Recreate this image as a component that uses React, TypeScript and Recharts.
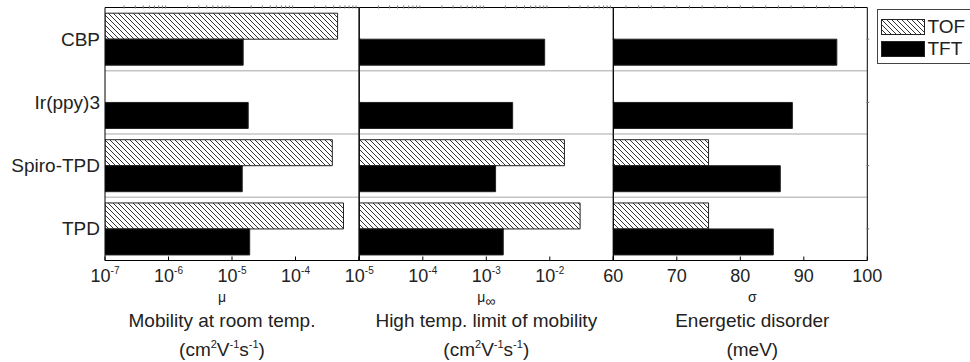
import React from 'react';
import { BarChart, Bar, XAxis, YAxis, CartesianGrid, Legend, Label } from 'recharts';

// materials (rows, top to bottom)
const categories = ['CBP', 'Ir(ppy)3', 'Spiro-TPD', 'TPD'];

// mobility at room temperature (cm2/Vs)
const tofMu = [4.6e-4, null, 3.8e-4, 5.7e-4];
const tftMu = [1.5e-5, 1.8e-5, 1.45e-5, 1.9e-5];

// high temperature limit of mobility (cm2/Vs)
const tofMuInf = [null, null, 1.7e-2, 3.0e-2];
const tftMuInf = [8.3e-3, 2.6e-3, 1.4e-3, 1.85e-3];

// energetic disorder (meV)
const tofSigma = [null, null, 75, 75];
const tftSigma = [95.2, 88.2, 86.3, 85.2];

const muTicks = [1e-7, 1e-6, 1e-5, 1e-4, 1e-3];
const muInfTicks = [1e-5, 1e-4, 1e-3, 1e-2, 1e-1];
const sigmaTicks = [60, 70, 80, 90, 100];

const W = 970;
const H = 362;
const PLOT_TOP = 7.5;
const AXIS_Y = 260.5;
const PANEL_W = 254;
const FONT = '"Liberation Sans", Arial, sans-serif';

const minorLog = (ticks: number[]) =>
  ticks.slice(0, -1).flatMap(d => [2, 3, 4, 5, 6, 7, 8, 9].map(k => k * d));
const minorLin = (ticks: number[]) => {
  const out: number[] = [];
  for (let v = ticks[0] + 2; v < ticks[ticks.length - 1]; v += 2) out.push(v);
  return out;
};

const panels = [
  {
    id: 'mu', left: 105, tof: tofMu, tft: tftMu, ticks: muTicks, log: true,
    symbol: 'μ', sub: '', title: 'Mobility at room temp.', unit: 'cm', dx: -10,
  },
  {
    id: 'muinf', left: 359.3, tof: tofMuInf, tft: tftMuInf, ticks: muInfTicks, log: true,
    symbol: 'μ', sub: '∞', title: 'High temp. limit of mobility', unit: 'cm', dx: 0,
  },
  {
    id: 'sigma', left: 613.3, tof: tofSigma, tft: tftSigma, ticks: sigmaTicks, log: false,
    symbol: 'σ', sub: '', title: 'Energetic disorder', unit: 'meV', dx: 12,
  },
];

const Hatch = ({ id }: { id: string }) => (
  <pattern id={id} width={5} height={5} patternUnits="userSpaceOnUse">
    <rect width={5} height={5} fill="#fff" />
    <path d="M0,0 L5,5 M-1,4 L1,6 M4,-1 L6,1" stroke="#333" strokeWidth={1} />
  </pattern>
);

const BottomTick = ({ x, y, payload, log, last }: any) => {
  const v = payload.value;
  const showLabel = v !== last || !log;
  return (
    <g>
      <line x1={x} x2={x} y1={y} y2={y - 4} stroke="#000" />
      {showLabel && (log ? (
        <text x={x} y={y + 21} textAnchor="middle" fontSize={18} fill="#222">
          10<tspan fontSize={10} dy={-8}>{Math.round(Math.log10(v))}</tspan>
        </text>
      ) : (
        <text x={x} y={y + 21} textAnchor="middle" fontSize={18} fill="#222">{v}</text>
      ))}
    </g>
  );
};

const AxisTitle = ({ viewBox, p }: any) => {
  const cx = viewBox.x + viewBox.width / 2 + p.dx;
  const y = viewBox.y;
  return (
    <g fill="#222">
      <text x={cx} y={y + 41} textAnchor="middle" fontSize={14}>
        {p.symbol}
        {p.sub && <tspan fontSize={14} dy={4}>{p.sub}</tspan>}
      </text>
      <text x={cx} y={y + 66} textAnchor="middle" fontSize={19}>{p.title}</text>
      {p.unit === 'cm' ? (
        <text x={cx} y={y + 95.5} textAnchor="middle" fontSize={19}>
          (cm<tspan fontSize={11} dy={-8}>2</tspan>
          <tspan dy={8}>V</tspan><tspan fontSize={11} dy={-8}>-1</tspan>
          <tspan dy={8}>s</tspan><tspan fontSize={11} dy={-8}>-1</tspan>
          <tspan dy={8}>)</tspan>
        </text>
      ) : (
        <text x={cx} y={y + 95.5} textAnchor="middle" fontSize={19}>({p.unit})</text>
      )}
    </g>
  );
};

const LegendBox = ({ payload }: any) => {
  const items = [...(payload || [])].sort((a: any, b: any) => (a.value === 'TOF' ? -1 : b.value === 'TOF' ? 1 : 0));
  return (
    <div style={{ position: 'relative', width: 110, height: 55, border: '1px solid #444', background: '#fff', boxSizing: 'border-box', fontFamily: FONT }}>
      {items.map((e: any, i: number) => (
        <div key={e.value} style={{ position: 'absolute', left: 3, top: i === 0 ? 8.5 : 31, height: 16, display: 'flex', alignItems: 'center' }}>
          <svg width={44} height={16} style={{ display: 'block' }}>
            <defs><Hatch id="hatch-legend" /></defs>
            <rect x={0.5} y={0.5} width={43} height={15} fill={e.value === 'TOF' ? 'url(#hatch-legend)' : '#000'} stroke="#222" />
          </svg>
          <span style={{ fontSize: 19, color: '#222', marginLeft: 3, lineHeight: '16px' }}>{e.value}</span>
        </div>
      ))}
    </div>
  );
};

export default function App() {
  return (
    <div style={{ position: 'absolute', left: 0, top: 0, width: W, height: H, overflow: 'hidden', background: '#fff', fontFamily: FONT }}>
      {panels.map((p, idx) => {
        const data = categories.map((name, i) => ({ name, TOF: p.tof[i], TFT: p.tft[i] }));
        const domain = [p.ticks[0], p.ticks[p.ticks.length - 1]];
        const minor = p.log ? minorLog(p.ticks) : minorLin(p.ticks);
        const hatchId = `hatch-${p.id}`;
        const leftW = idx === 0 ? 105 : 1;
        return (
          <div key={p.id} style={{ position: 'absolute', left: 0, top: 0 }}>
            <BarChart
              width={W}
              height={H}
              data={data}
              layout="vertical"
              barCategoryGap="9%"
              barGap={0}
              margin={{ top: PLOT_TOP - 1, bottom: 0, left: p.left - leftW, right: W - p.left - PANEL_W - 1 }}
            >
              <defs><Hatch id={hatchId} /></defs>
              <CartesianGrid
                xAxisId="b"
                yAxisId="l"
                vertical={false}
                stroke="#c4c4c4"
                strokeWidth={1.5}
                horizontalCoordinatesGenerator={({ offset }: any) =>
                  categories.slice(1).map((_, i) => offset.top + (offset.height * (i + 1)) / categories.length)}
              />
              <XAxis
                xAxisId="b"
                type="number"
                scale={p.log ? 'log' : 'linear'}
                domain={domain}
                ticks={p.ticks}
                allowDataOverflow
                height={H - AXIS_Y}
                stroke="#000"
                tickSize={0}
                tickMargin={0}
                tickLine={false}
                interval={0}
                tick={(t: any) => <BottomTick {...t} log={p.log} last={p.ticks[p.ticks.length - 1]} />}
              >
                <Label content={(lp: any) => <AxisTitle viewBox={lp.viewBox} p={p} />} />
              </XAxis>
              <XAxis
                xAxisId="t"
                orientation="top"
                type="number"
                scale={p.log ? 'log' : 'linear'}
                domain={domain}
                ticks={minor}
                allowDataOverflow
                height={1}
                stroke="#000"
                tickSize={0}
                tickLine={false}
                interval={0}
                tick={(t: any) => <line x1={t.x} x2={t.x} y1={t.y} y2={t.y + 3} stroke="#777" />}
              />
              <YAxis
                yAxisId="l"
                type="category"
                dataKey="name"
                width={leftW}
                stroke="#000"
                tickSize={0}
                tickMargin={0}
                tickLine={false}
                interval={0}
                tick={idx === 0
                  ? (t: any) => (
                    <text x={t.x - 5} y={t.y} dy={6.5} textAnchor="end" fontSize={19} fill="#222">{t.payload.value}</text>
                  )
                  : false}
              />
              <YAxis
                yAxisId="r"
                orientation="right"
                type="category"
                dataKey="name"
                width={1}
                stroke="#000"
                tickSize={0}
                tickLine={false}
                interval={0}
                tick={(t: any) => <line x1={t.x} x2={t.x - 3} y1={t.y} y2={t.y} stroke="#777" />}
              />
              <Bar xAxisId="b" yAxisId="l" dataKey="TOF" name="TOF" fill={`url(#${hatchId})`} stroke="#222" strokeWidth={1} isAnimationActive={false} />
              <Bar xAxisId="b" yAxisId="l" dataKey="TFT" name="TFT" fill="#000" stroke="#222" strokeWidth={1} isAnimationActive={false} />
              {idx === 2 && (
                <Legend
                  layout="horizontal"
                  verticalAlign="middle"
                  align="center"
                  content={(lp: any) => <LegendBox payload={lp.payload} />}
                  wrapperStyle={{ position: 'absolute', left: 876.5, top: 9, width: 110, height: 55 }}
                />
              )}
            </BarChart>
          </div>
        );
      })}
    </div>
  );
}
